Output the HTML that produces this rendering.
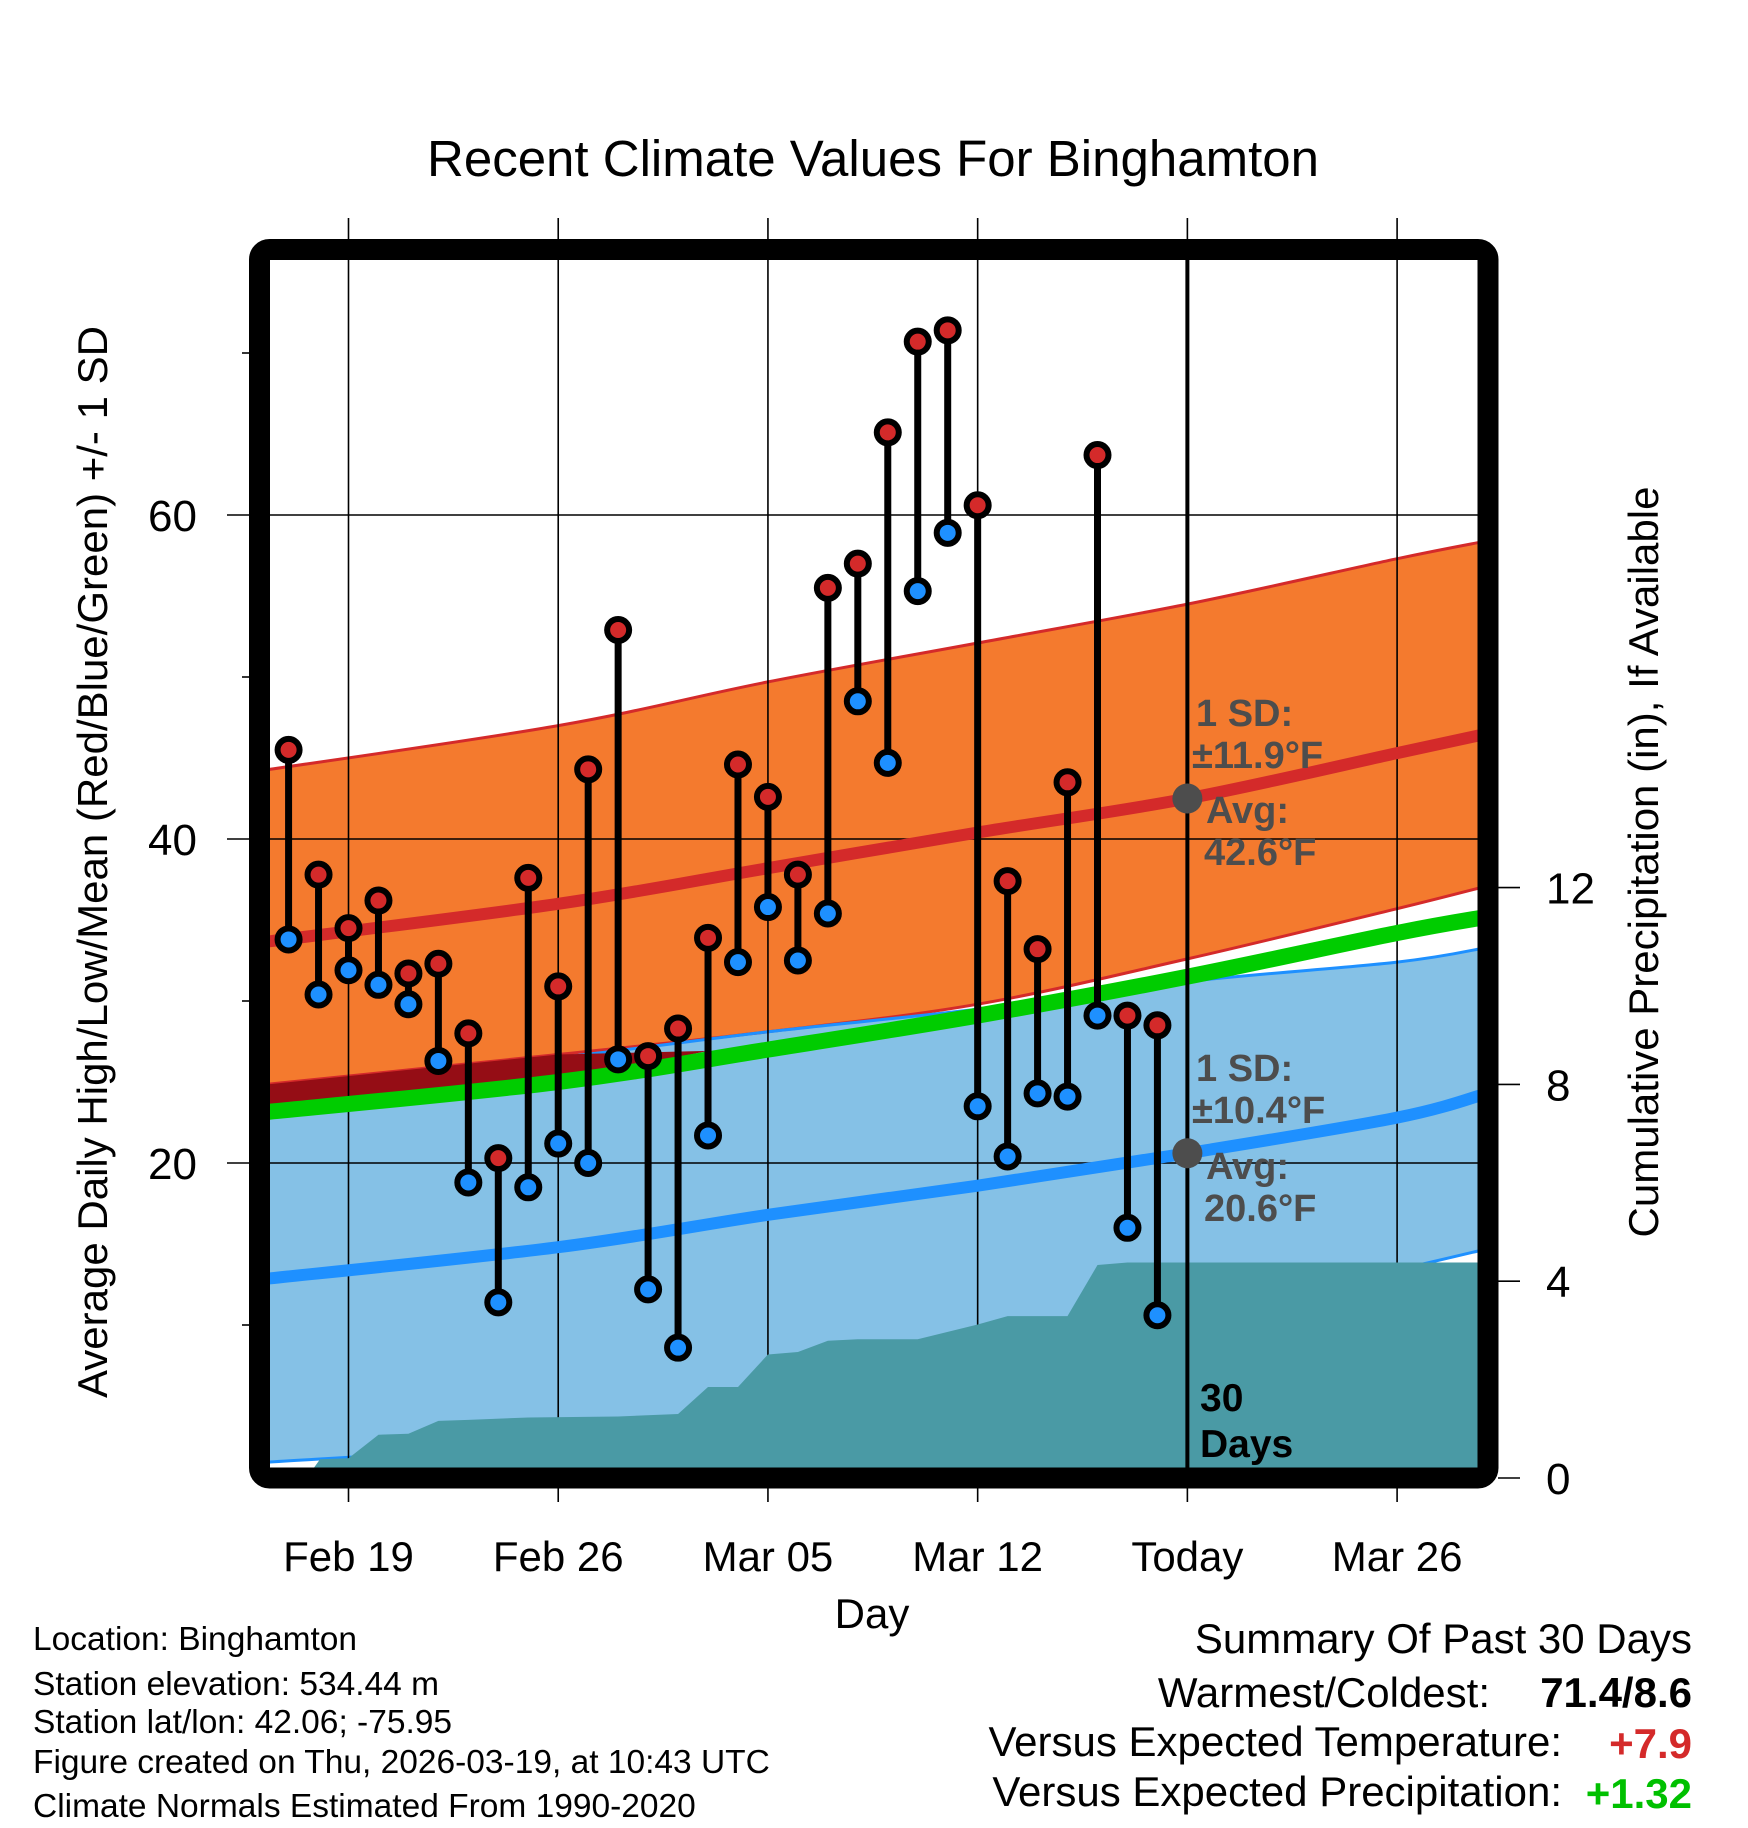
<!DOCTYPE html>
<html><head><meta charset="utf-8">
<style>
html,body{margin:0;padding:0;background:#fff;}
svg{display:block;font-family:"Liberation Sans",sans-serif;}
</style></head>
<body>
<svg id="chart" width="1748" height="1828" viewBox="0 0 1748 1828" xmlns="http://www.w3.org/2000/svg">
<defs><clipPath id="plotclip"><rect x="270" y="260" width="1208" height="1208"/></clipPath></defs>
<text x="873" y="176" font-size="51" text-anchor="middle">Recent Climate Values For Binghamton</text>
<g id="plot" clip-path="url(#plotclip)"></g>
<g id="over"></g>
<text transform="translate(107,862) rotate(-90)" font-size="42" text-anchor="middle">Average Daily High/Low/Mean (Red/Blue/Green) +/- 1 SD</text>
<text transform="translate(1658,862) rotate(-90)" font-size="42" text-anchor="middle">Cumulative Precipitation (in), If Available</text>
<text x="872" y="1628" font-size="42" text-anchor="middle">Day</text>
<g font-size="33.5">
<text x="33" y="1650">Location: Binghamton</text>
<text x="33" y="1695">Station elevation: 534.44 m</text>
<text x="33" y="1733">Station lat/lon: 42.06; -75.95</text>
<text x="33" y="1773">Figure created on Thu, 2026-03-19, at 10:43 UTC</text>
<text x="33" y="1817">Climate Normals Estimated From 1990-2020</text>
</g>
<g font-size="42" text-anchor="end">
<text x="1692" y="1653">Summary Of Past 30 Days</text>
<text x="1490" y="1707">Warmest/Coldest:</text>
<text x="1692" y="1707" font-weight="bold">71.4/8.6</text>
<text x="1562" y="1756">Versus Expected Temperature:</text>
<text x="1692" y="1758" font-weight="bold" fill="#d42a2a">+7.9</text>
<text x="1562" y="1806">Versus Expected Precipitation:</text>
<text x="1692" y="1808" font-weight="bold" fill="#00c000">+1.32</text>
</g>
</svg>
<script>
// ---- data ----
const days = [-2,-1,0,1,2,3,4,5,6,7,8,9,10,11,12,13,14,15,16,17,18,19,20,21,22,23,24,25,26,27];
const highs = [45.5,37.8,34.5,36.2,31.7,32.3,28.0,20.3,37.6,30.9,44.3,52.9,26.6,28.3,33.9,44.6,42.6,37.8,55.5,57.0,65.1,70.7,71.4,60.6,37.4,33.2,43.5,63.7,29.1,28.5];
const lows = [33.8,30.4,31.9,31.0,29.8,26.3,18.8,11.4,18.5,21.2,20.0,26.4,12.2,8.6,21.7,32.4,35.8,32.5,35.4,48.5,44.7,55.3,58.9,23.5,20.4,24.3,24.1,29.1,16.0,10.6];
const normDays = [-3,7,14,21,28,35,38];
const highUpper = [44.2,47.0,49.7,52.1,54.5,57.3,58.4];
const highAvg = [33.6,36.0,38.2,40.4,42.5,45.3,46.5];
const highLower = [24.8,26.7,28.1,29.8,32.6,35.7,37.1];
const meanAvg = [23.1,25.0,27.0,29.1,31.5,34.2,35.2];
const lowUpper = [24.6,26.5,28.1,29.5,31.2,32.4,33.3];
const lowAvg = [12.8,14.8,16.8,18.6,20.6,22.8,24.3];
const lowLower = [1.5,2.8,5.0,7.5,10.5,13.4,14.7];
const precipDays = [-1.4,-0.95,0,1,2,3,4,6,9,11,12,13,14,15,16,17,19,21,22,24,25,26,38];
const precipVals = [0,0.38,0.40,0.88,0.90,1.16,1.18,1.23,1.25,1.30,1.85,1.85,2.51,2.56,2.79,2.82,2.82,3.12,3.29,3.29,4.33,4.38,4.38];
const xTickDays = [0,7,14,21,28,35];
const xTickLabels = ["Feb 19","Feb 26","Mar 05","Mar 12","Today","Mar 26"];
const yTicks = [20,40,60];
const yMinor = [10,30,50,70];
const pTicks = [0,4,8,12];
const todayDay = 28;
// ---- axes ----
const X = d => 348.5 + d*29.96;
const Y = t => 1163 - (t-20)*16.2;
const P = p => 1478 - p*49.2;
const NS = "http://www.w3.org/2000/svg";
const plot = document.getElementById('plot');
const over = document.getElementById('over');
function mk(tag, attrs, parent){const e=document.createElementNS(NS,tag);for(const k in attrs)e.setAttribute(k,attrs[k]);parent.appendChild(e);return e;}
function xy(arr){return normDays.map((d,i)=>[X(d),Y(arr[i])]);}
function smooth(p, move){
  let s=(move?'M':'L')+p[0][0].toFixed(1)+','+p[0][1].toFixed(1);
  for(let i=0;i<p.length-1;i++){
    const p0=p[Math.max(i-1,0)],p1=p[i],p2=p[i+1],p3=p[Math.min(i+2,p.length-1)];
    const c1=[p1[0]+(p2[0]-p0[0])/6,p1[1]+(p2[1]-p0[1])/6];
    const c2=[p2[0]-(p3[0]-p1[0])/6,p2[1]-(p3[1]-p1[1])/6];
    s+=' C'+c1.map(v=>v.toFixed(1)).join(',')+' '+c2.map(v=>v.toFixed(1)).join(',')+' '+p2[0].toFixed(1)+','+p2[1].toFixed(1);
  }
  return s;
}
function band(up,lo,fill,name){
  const d=smooth(xy(up),true)+' '+smooth(xy(lo).reverse(),false)+' Z';
  const e=mk('path',{d:d,fill:fill},plot);
  
  
}
function line(arr,color,w,name){
  const e=mk('path',{d:smooth(xy(arr),true),fill:'none',stroke:color,'stroke-width':w},plot);
  
  
}
band(highUpper,highLower,'#f47a2e','high-sd-band');
band(lowUpper,lowLower,'#85c1e6','low-sd-band');
line(highUpper,'#d42a2a',3,'high-upper-line');
line(highLower,'#d42a2a',3,'high-lower-line');
line(lowUpper,'#1e90ff',3,'low-upper-line');
line(lowLower,'#1e90ff',3,'low-lower-line');
// dark overlap strip (tapers out where the orange band leaves the mean line)
{
  const tEnd=12, f=(tEnd-normDays[1])/(normDays[2]-normDays[1]);
  const yEnd=Y(meanAvg[1]+(meanAvg[2]-meanAvg[1])*f)-8;
  const p=[[X(normDays[0]),Y(highLower[0])],[X(normDays[1]),Y(highLower[1])],[X(tEnd),yEnd],[X(normDays[1]),Y(meanAvg[1])],[X(normDays[0]),Y(meanAvg[0])]];
  const e=mk('polygon',{points:p.map(q=>q.join(',')).join(' '),fill:'#950d15'},plot);
  
  
}
// grid
xTickDays.forEach(d=>{
  const g=mk('line',{x1:X(d),x2:X(d),y1:200,y2:1500,stroke:'#000','stroke-width':1.6},plot);
  
  
});
yTicks.forEach(t=>{
  const g=mk('line',{x1:227,x2:1478,y1:Y(t),y2:Y(t),stroke:'#000','stroke-width':1.6},plot);
  
  
});
line(meanAvg,'#00cc00',16,'mean-avg-line');
line(highAvg,'#d42a2a',12,'high-avg-line');
line(lowAvg,'#1e90ff',12,'low-avg-line');
// precipitation
{
  let p=precipDays.map((d,i)=>X(d).toFixed(1)+','+P(precipVals[i]).toFixed(1));
  p.push(X(precipDays[precipDays.length-1])+','+P(0));
  p.push(X(precipDays[0])+','+P(0));
  const e=mk('polygon',{points:p.join(' '),fill:'#4a9aa5'},plot);
  
  
}
// stems and markers
days.forEach((d,i)=>{
  const s=mk('line',{x1:X(d),x2:X(d),y1:Y(highs[i]),y2:Y(lows[i]),stroke:'#000','stroke-width':7},plot);
  
  
});
days.forEach((d,i)=>{
  const h=mk('circle',{cx:X(d),cy:Y(highs[i]),r:11,fill:'#d42a2a',stroke:'#000','stroke-width':6},plot);
  
  
  const l=mk('circle',{cx:X(d),cy:Y(lows[i]),r:11,fill:'#1e90ff',stroke:'#000','stroke-width':6},plot);
  
  
});
// today line
{
  const t=mk('line',{x1:X(todayDay),x2:X(todayDay),y1:260,y2:1468,stroke:'#000','stroke-width':4},plot);
  
  
  const iT=normDays.indexOf(todayDay);
  const c1=mk('circle',{cx:X(todayDay),cy:Y(highAvg[iT]),r:15,fill:'#4d4d4d'},plot);
  
  
  const c2=mk('circle',{cx:X(todayDay),cy:Y(lowAvg[iT]),r:15,fill:'#4d4d4d'},plot);
  
  
}
// annotations
const annHigh=[["1 SD:",1196,726],["±11.9°F",1192,768],["Avg:",1206,823],["42.6°F",1204,865]];
const annLow=[["1 SD:",1196,1081],["±10.4°F",1192,1123],["Avg:",1206,1179],["20.6°F",1204,1221]];
annHigh.concat(annLow).forEach(a=>{
  const t=mk('text',{x:a[1],y:a[2],'font-size':38,'font-weight':'bold',fill:'#4d4d4d'},over);
  t.textContent=a[0];
  
  
});
[["30",1200,1411],["Days",1200,1457]].forEach(a=>{
  const t=mk('text',{x:a[1],y:a[2],'font-size':39,'font-weight':'bold',fill:'#000'},over);
  t.textContent=a[0];
  
  
});
// frame
{
  const f=mk('rect',{x:259.5,y:249.5,width:1228.5,height:1228.5,rx:10,fill:'none',stroke:'#000','stroke-width':21},over);
  
  
}
// ticks and labels
xTickDays.forEach((d,i)=>{
  const a=mk('line',{x1:X(d),x2:X(d),y1:218,y2:240,stroke:'#000','stroke-width':1.6},over);
  
  
  const b=mk('line',{x1:X(d),x2:X(d),y1:1488,y2:1502,stroke:'#000','stroke-width':1.6},over);
  
  
  const t=mk('text',{x:X(d),y:1571,'font-size':42,'text-anchor':'middle'},over);
  t.textContent=xTickLabels[i];
  
  
});
yTicks.forEach(v=>{
  const a=mk('line',{x1:227,x2:250,y1:Y(v),y2:Y(v),stroke:'#000','stroke-width':1.6},over);
  
  
  const t=mk('text',{x:197,y:Y(v)+16,'font-size':44,'text-anchor':'end'},over);
  t.textContent=v;
  
  
});
yMinor.forEach(v=>{
  const a=mk('line',{x1:242,x2:250,y1:Y(v),y2:Y(v),stroke:'#000','stroke-width':1.6},over);
  
  
});
pTicks.forEach(v=>{
  const a=mk('line',{x1:1498,x2:1520,y1:P(v),y2:P(v),stroke:'#000','stroke-width':1.6},over);
  
  
  const t=mk('text',{x:1546,y:P(v)+16,'font-size':44},over);
  t.textContent=v;
  
  
});
</script>
</body></html>
